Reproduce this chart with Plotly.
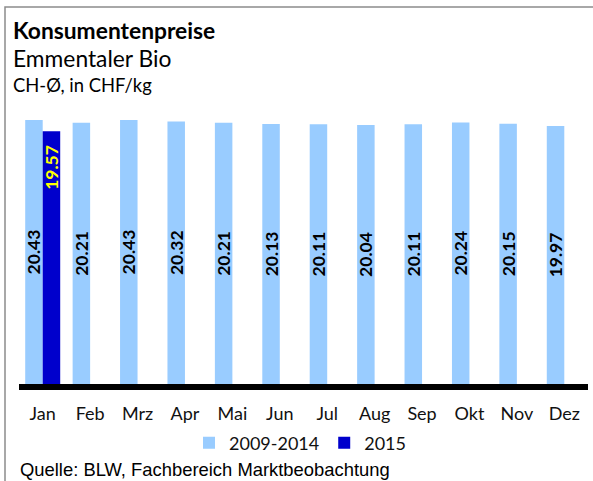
import plotly.graph_objects as go

# Monthly consumer prices, organic Emmentaler, CH average in CHF/kg
months = ["Jan", "Feb", "Mrz", "Apr", "Mai", "Jun", "Jul", "Aug", "Sep", "Okt", "Nov", "Dez"]
avg_2009_2014 = [20.43, 20.21, 20.43, 20.32, 20.21, 20.13, 20.11, 20.04, 20.11, 20.24, 20.15, 19.97]
months_2015 = ["Jan"]
values_2015 = [19.57]

title_text = "Konsumentenpreise"
subtitle_text = "Emmentaler Bio"
unit_text = "CH-Ø, in CHF/kg"
source_text = "Quelle: BLW, Fachbereich Marktbeobachtung"

W, H = 593, 481
M_L, M_R, M_T, M_B = 19, 5, 100, 97
PW, PH = W - M_L - M_R, H - M_T - M_B


def px(x):
    return (x - M_L) / PW


def py(y):
    return (H - M_B - y) / PH


FONT = "Lato"
LIGHT = "#99CCFF"
DARK = "#0000CC"
LABEL_SIZE = 17.5

fig = go.Figure()
fig.add_trace(go.Bar(
    x=months, y=avg_2009_2014, name="2009-2014",
    marker=dict(color=LIGHT, line=dict(width=0)),
    texttemplate="%{y:.2f}",
    textposition="inside", insidetextanchor="middle", textangle=-90,
    textfont=dict(family=FONT, size=LABEL_SIZE, color="black", weight="bold"),
    cliponaxis=False,
))
fig.add_trace(go.Bar(
    x=months_2015, y=values_2015, name="2015",
    marker=dict(color=DARK, line=dict(width=0)),
    # en space + thin space keep the label a little below the bar top
    texttemplate="%{y:.2f}\u2002\u2009",
    textposition="inside", insidetextanchor="end", textangle=-90,
    textfont=dict(family=FONT, size=LABEL_SIZE, color="#FFFF00", weight="bold"),
    cliponaxis=False,
))

fig.update_layout(
    width=W, height=H,
    margin=dict(l=M_L, r=M_R, t=M_T, b=M_B, autoexpand=False),
    paper_bgcolor="white", plot_bgcolor="white",
    barmode="group", bargap=0.262, bargroupgap=0,
    uniformtext=dict(mode="show", minsize=LABEL_SIZE),
    font=dict(family=FONT, color="black"),
    xaxis=dict(
        categoryorder="array", categoryarray=months,
        showline=True, linecolor="black", linewidth=6,
        ticks="", showgrid=False, zeroline=False,
        tickfont=dict(family=FONT, size=18, color="#111"),
        ticklabelstandoff=8,
        fixedrange=True,
    ),
    yaxis=dict(
        range=[0, 21.98], visible=False, showgrid=False, zeroline=False,
        fixedrange=True,
    ),
    legend=dict(
        orientation="h", x=px(300), xanchor="center", y=py(443), yanchor="middle",
        font=dict(family=FONT, size=18, color="#111"),
        itemwidth=30, traceorder="normal", bgcolor="rgba(0,0,0,0)",
    ),
    showlegend=True,
)

# Header and footer text
fig.add_annotation(text=f"<b>{title_text}</b>", xref="paper", yref="paper",
                   x=px(11), y=py(30), xanchor="left", yanchor="middle", showarrow=False,
                   font=dict(family=FONT, size=22.8, color="black"))
fig.add_annotation(text=subtitle_text, xref="paper", yref="paper",
                   x=px(11), y=py(58), xanchor="left", yanchor="middle", showarrow=False,
                   font=dict(family=FONT, size=22.8, color="black"))
fig.add_annotation(text=unit_text, xref="paper", yref="paper",
                   x=px(11), y=py(85), xanchor="left", yanchor="middle", showarrow=False,
                   font=dict(family=FONT, size=18.4, color="black"))
fig.add_annotation(text=source_text, xref="paper", yref="paper",
                   x=px(18), y=py(469), xanchor="left", yanchor="middle", showarrow=False,
                   font=dict(family="Liberation Sans", size=18.4, color="black"))

# Chart frame (left and top edges visible, remainder runs off the page)
fig.add_shape(type="rect", xref="paper", yref="paper",
              x0=px(5), x1=px(W + 20), y0=py(H + 20), y1=py(7),
              line=dict(color="#8c8c8c", width=1.5), fillcolor="rgba(0,0,0,0)", layer="below")

fig.write_html("out.html")
